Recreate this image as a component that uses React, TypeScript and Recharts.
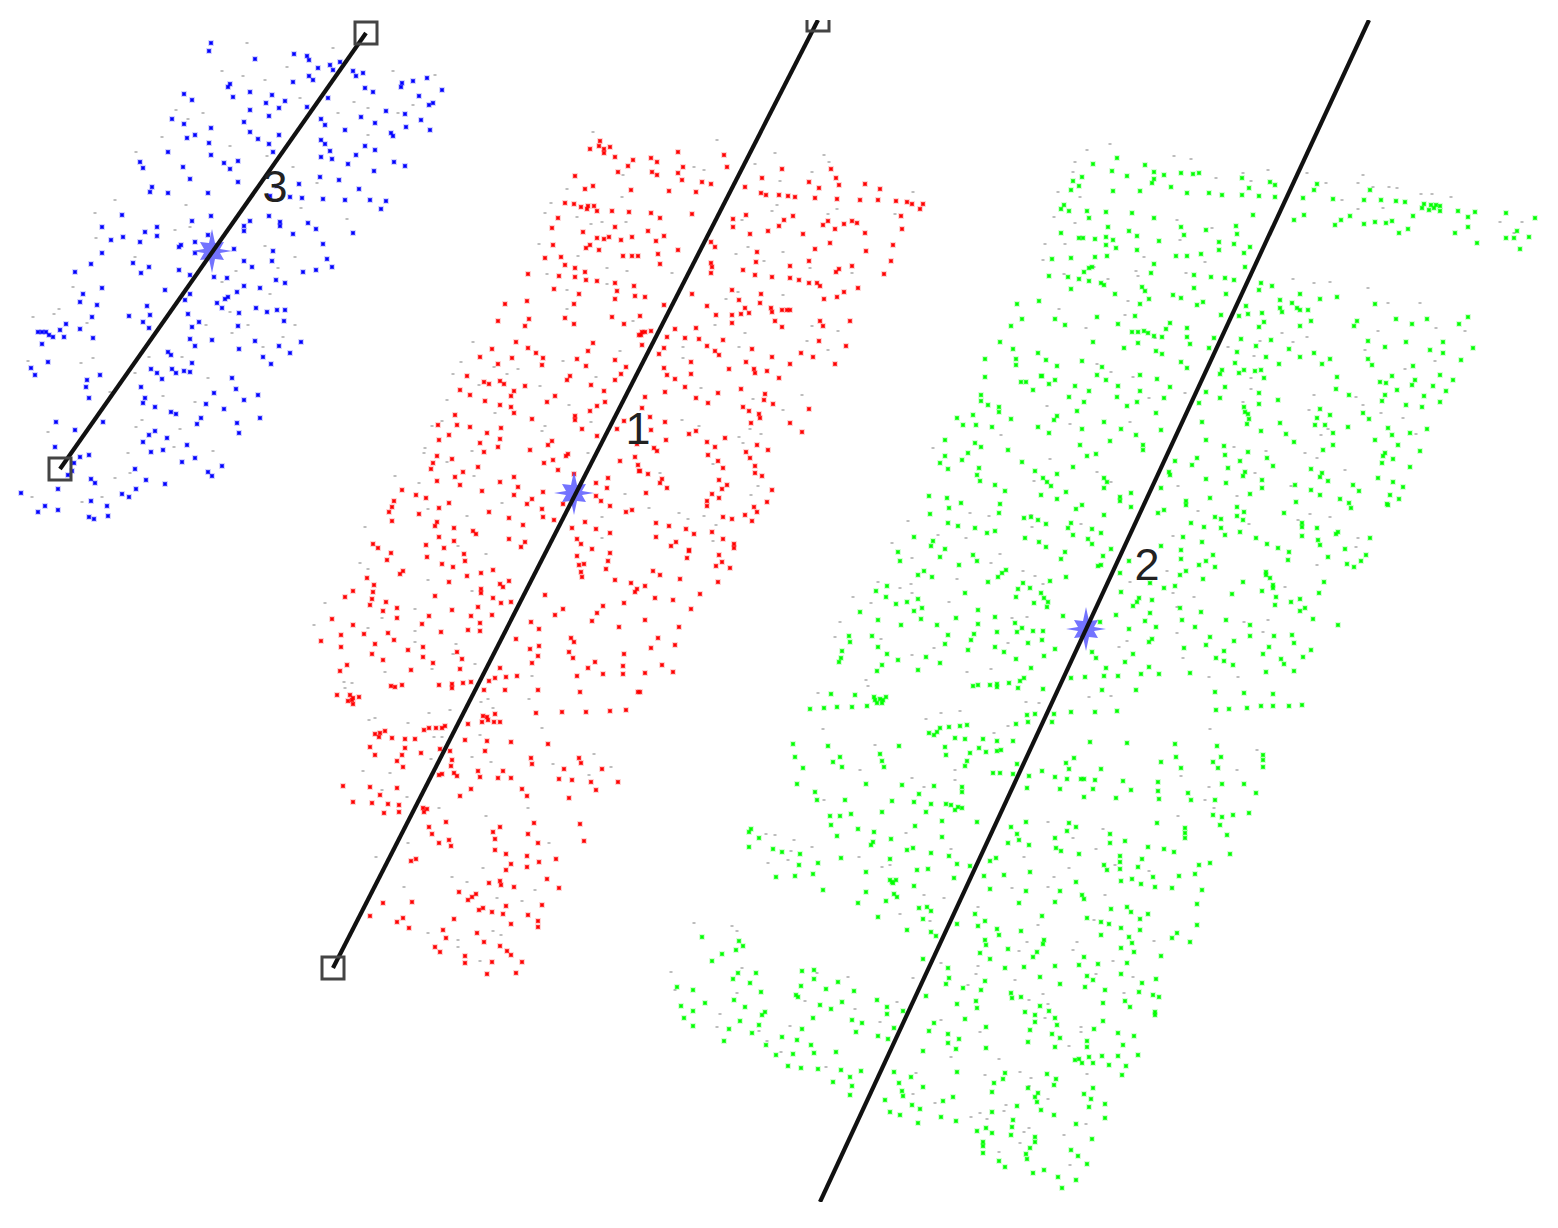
import { ScatterChart, Scatter, XAxis, YAxis, ReferenceDot } from "recharts";

type Pt = [number, number];

const bluePoints: Pt[] = [[211,43],[209,51],[255,59],[294,54],[307,56],[309,60],[318,68],[330,65],[333,70],[340,62],[353,71],[356,76],[363,73],[309,76],[313,80],[293,82],[230,84],[228,87],[250,92],[272,95],[233,97],[184,94],[192,100],[266,103],[285,101],[279,108],[250,110],[269,116],[307,107],[328,98],[365,88],[373,92],[402,83],[401,87],[413,81],[427,78],[442,90],[419,96],[433,103],[429,105],[386,111],[405,114],[361,117],[321,119],[325,125],[375,123],[421,120],[406,127],[430,130],[345,130],[391,133],[393,136],[172,119],[184,124],[211,128],[244,122],[250,132],[279,135],[195,135],[187,138],[258,139],[209,143],[269,144],[321,140],[325,144],[330,151],[365,146],[375,150],[168,152],[211,155],[273,152],[321,157],[332,159],[356,155],[140,162],[143,168],[183,167],[224,163],[230,169],[238,161],[348,164],[394,162],[405,166],[374,171],[190,179],[238,182],[320,177],[339,180],[299,184],[152,187],[150,192],[168,193],[208,193],[277,186],[270,196],[290,197],[302,198],[323,199],[359,189],[345,200],[370,200],[386,201],[381,209],[122,215],[211,216],[192,221],[269,216],[280,222],[280,226],[308,223],[316,229],[250,221],[244,226],[244,231],[293,234],[353,233],[102,227],[157,227],[145,232],[157,236],[123,237],[111,240],[140,242],[208,235],[195,242],[181,245],[179,247],[323,244],[102,253],[195,253],[234,249],[273,251],[91,264],[133,263],[149,267],[141,273],[75,272],[179,270],[190,275],[244,261],[252,267],[272,261],[327,259],[332,267],[316,270],[303,272],[214,277],[227,278],[276,280],[285,283],[244,286],[260,288],[102,288],[165,290],[83,294],[190,294],[237,292],[228,297],[225,299],[80,302],[185,300],[217,303],[222,308],[97,305],[147,306],[256,308],[267,312],[277,310],[285,310],[239,313],[188,314],[150,315],[129,316],[92,317],[199,322],[284,321],[143,322],[66,324],[192,327],[238,326],[149,328],[60,330],[80,329],[38,332],[42,332],[46,332],[49,335],[53,337],[64,337],[93,338],[42,344],[190,339],[212,340],[195,346],[255,341],[301,342],[279,346],[239,349],[290,353],[168,352],[171,355],[263,357],[271,364],[48,362],[192,363],[31,368],[35,375],[151,369],[157,373],[162,379],[172,369],[176,373],[184,371],[190,372],[100,375],[87,380],[86,387],[232,378],[141,387],[236,389],[214,393],[258,395],[89,398],[145,398],[143,403],[244,400],[206,404],[155,407],[224,409],[171,412],[176,414],[201,418],[197,424],[260,418],[56,422],[103,422],[237,423],[239,433],[75,430],[155,431],[149,435],[167,438],[143,442],[55,447],[187,445],[163,450],[151,452],[89,455],[80,457],[74,463],[195,458],[182,462],[222,466],[135,469],[72,471],[68,475],[208,472],[212,476],[91,479],[95,483],[146,480],[165,484],[58,489],[136,489],[21,493],[122,494],[129,497],[91,501],[45,506],[107,506],[58,510],[38,512],[89,517],[94,519],[108,516]];

const redPoints: Pt[] = [[600,141],[599,146],[604,149],[610,147],[604,153],[590,149],[615,157],[633,160],[628,166],[618,172],[575,176],[593,186],[585,189],[631,190],[565,203],[574,204],[581,207],[588,206],[587,209],[594,206],[597,211],[612,211],[629,212],[558,218],[552,228],[615,227],[583,232],[597,238],[604,239],[609,237],[621,240],[632,237],[553,245],[590,245],[586,248],[599,250],[623,256],[632,256],[638,256],[545,258],[561,257],[565,265],[575,268],[585,272],[528,274],[559,276],[575,277],[586,280],[597,281],[615,283],[634,286],[554,289],[617,291],[635,296],[579,294],[615,299],[527,301],[505,304],[574,304],[565,318],[612,317],[529,319],[498,321],[574,324],[624,324],[525,326],[639,335],[516,342],[593,343],[528,348],[492,349],[588,351],[536,353],[480,357],[512,358],[543,358],[577,359],[615,360],[498,364],[542,365],[586,366],[626,367],[621,374],[570,376],[567,380],[615,380],[467,376],[484,382],[489,384],[500,381],[504,384],[525,386],[591,385],[460,390],[604,391],[514,391],[511,396],[470,395],[555,396],[547,402],[485,401],[605,402],[500,405],[511,407],[597,406],[590,411],[514,413],[455,415],[575,416],[575,420],[532,419],[624,421],[438,425],[457,425],[470,427],[501,428],[582,429],[617,429],[487,433],[449,435],[597,436],[439,440],[500,439],[552,441],[480,443],[548,445],[637,444],[498,447],[530,450],[484,452],[437,456],[568,454],[566,456],[635,457],[452,459],[433,463],[544,463],[553,460],[620,461],[638,465],[431,469],[478,467],[558,470],[639,471],[463,472],[574,474],[455,477],[514,477],[608,478],[437,481],[500,482],[596,483],[460,485],[518,487],[607,488],[482,491],[402,490],[543,492],[416,495],[514,495],[426,498],[596,496],[601,501],[394,501],[532,499],[449,503],[392,507],[527,504],[439,508],[563,504],[610,506],[542,509],[389,512],[419,514],[489,512],[632,510],[626,512],[543,517],[509,518],[554,520],[392,521],[437,522],[435,526],[585,522],[523,525],[454,528],[572,528],[596,529],[473,531],[476,534],[610,533],[439,537],[509,539],[577,539],[454,541],[525,542],[373,544],[378,548],[426,545],[444,548],[521,547],[581,544],[592,549],
[678,152],[651,158],[657,162],[683,167],[652,172],[657,175],[678,173],[682,180],[724,155],[727,167],[702,182],[711,184],[669,191],[696,192],[745,187],[782,169],[762,178],[809,182],[819,188],[831,169],[836,178],[839,185],[865,184],[880,189],[761,193],[766,195],[779,195],[788,196],[795,197],[815,198],[837,199],[860,200],[878,200],[896,201],[907,202],[912,204],[923,204],[920,209],[651,213],[660,218],[692,214],[746,215],[733,219],[733,227],[793,216],[784,220],[779,226],[768,231],[750,234],[823,225],[828,221],[844,224],[852,221],[857,223],[835,229],[803,234],[865,233],[901,216],[902,229],[648,231],[664,236],[656,241],[711,242],[715,247],[678,250],[658,254],[660,264],[815,249],[830,243],[866,251],[893,245],[757,252],[756,262],[809,261],[891,261],[711,263],[712,267],[711,273],[743,270],[790,266],[852,266],[839,269],[836,272],[884,274],[755,275],[772,277],[790,278],[799,280],[809,283],[817,283],[820,286],[858,288],[732,290],[761,294],[844,292],[837,297],[824,299],[692,294],[645,297],[739,300],[760,303],[664,305],[707,306],[745,308],[771,308],[772,312],[782,310],[787,310],[790,310],[716,315],[732,315],[741,314],[749,313],[640,316],[732,323],[775,321],[782,327],[820,321],[823,326],[850,321],[675,329],[696,328],[642,332],[645,332],[641,335],[651,331],[667,337],[685,338],[699,339],[723,340],[819,341],[707,346],[642,345],[664,348],[752,349],[846,346],[715,351],[719,355],[659,354],[801,353],[772,357],[813,357],[691,362],[746,362],[835,364],[790,364],[664,368],[729,369],[754,369],[755,373],[767,371],[691,374],[667,375],[675,379],[779,378],[685,387],[741,389],[645,397],[665,392],[696,398],[718,393],[765,394],[708,403],[764,400],[773,404],[743,407],[749,411],[809,409],[642,408],[759,414],[760,418],[650,417],[665,422],[751,423],[790,423],[802,432],[651,430],[696,431],[689,434],[725,438],[666,440],[707,442],[715,447],[757,445],[768,450],[654,448],[657,451],[746,452],[708,455],[750,458],[718,461],[723,468],[755,466],[755,473],[762,476],[648,474],[640,471],[662,479],[660,483],[719,480],[727,485],[722,489],[667,488],[772,490],[646,493],[712,494],[719,498],[707,501],[707,506],[767,502],[754,507],[757,512],[723,517],[732,519],[745,515],[752,521],[656,523],[669,526],[686,529],[694,534],[712,532],[656,537],[676,542],[671,546],[723,539],[734,544],[734,548],[689,550],
[391,553],[387,560],[427,557],[442,564],[453,567],[464,554],[465,561],[403,571],[400,574],[367,578],[467,576],[481,573],[493,570],[449,582],[509,581],[500,584],[503,587],[374,585],[373,592],[353,591],[345,597],[481,589],[481,593],[435,596],[493,598],[372,599],[370,605],[386,602],[501,603],[511,602],[545,595],[397,608],[478,607],[383,611],[452,610],[471,616],[492,615],[429,616],[397,618],[332,619],[422,624],[480,623],[353,625],[531,622],[539,629],[468,630],[480,631],[441,632],[388,633],[364,634],[341,635],[394,640],[321,641],[516,639],[375,644],[341,647],[423,647],[408,650],[372,654],[457,652],[530,649],[539,646],[423,657],[538,656],[383,660],[462,659],[433,663],[532,663],[347,665],[460,669],[500,668],[411,670],[340,671],[517,676],[506,677],[495,678],[489,681],[471,682],[463,683],[439,685],[452,684],[452,688],[402,685],[391,686],[395,687],[484,690],[505,690],[538,690],[337,695],[350,695],[359,697],[352,700],[348,701],[353,704],[353,698],[536,713],[562,712],[586,712],[610,711],[626,710],[483,716],[495,714],[487,717],[482,722],[488,720],[494,722],[500,722],[468,724],[445,726],[442,728],[436,728],[429,728],[424,730],[385,731],[380,733],[375,734],[379,737],[392,738],[405,739],[415,739],[465,740],[487,741],[511,742],[548,744],[405,748],[370,747],[421,753],[440,749],[450,751],[485,751],[375,755],[402,755],[452,760],[531,758],[579,758],[397,761],[532,764],[451,766],[581,763],[403,767],[564,769],[602,769],[503,771],[478,771],[454,773],[442,774],[439,775],[457,776],[480,777],[498,778],[511,778],[559,779],[572,780],[591,782],[618,782],[343,786],[370,787],[397,788],[522,789],[471,789],[596,790],[380,795],[460,796],[527,796],[569,798],[353,802],[372,803],[388,804],[399,805],[423,808],[427,809],[424,812],[384,813],[399,812],[446,822],[534,823],[580,824],[500,827],[429,827],[493,832],[432,834],[528,834],[495,839],[439,843],[449,840],[451,846],[538,843],[584,841],[495,850],[506,854],[527,856],[556,859],[416,859],[411,861],[539,862],[511,864],[527,867],[506,870],[547,879],[489,883],[500,881],[501,885],[514,887],[559,888],[459,892],[476,894],[472,897],[468,900],[383,903],[412,902],[542,905],[506,906],[479,910],[483,908],[492,912],[503,914],[528,915],[370,916],[454,919],[403,918],[397,922],[538,921],[538,927],[511,924],[409,928],[443,930],[477,933],[446,938],[484,942],[500,946],[435,947],[440,952],[507,951],[511,955],[465,956],[465,963],[492,962],[522,962],[487,974],[516,973],
[610,553],[608,561],[577,556],[579,565],[584,564],[606,569],[581,572],[582,577],[615,580],[631,583],[637,589],[635,592],[624,603],[603,606],[563,609],[555,615],[597,613],[592,621],[619,627],[571,638],[574,642],[569,652],[573,658],[624,654],[595,662],[588,668],[623,666],[623,674],[603,674],[577,676],[580,692],[638,692],
[689,551],[719,555],[687,558],[722,562],[716,566],[730,568],[653,571],[660,575],[680,579],[718,582],[645,586],[700,594],[655,598],[673,600],[691,609],[645,620],[679,627],[658,638],[675,645],[651,648],[662,665],[673,672],[645,673],[640,692]];

const greenPoints: Pt[] = [[1117,158],[1093,164],[1145,165],[1112,171],[1154,172],[1127,176],[1164,175],[1181,173],[1193,174],[1199,173],[1082,177],[1073,181],[1154,179],[1152,183],[1079,186],[1071,190],[1113,191],[1140,191],[1171,187],[1187,193],[1209,193],[1222,195],[1242,178],[1249,188],[1242,195],[1259,196],[1270,182],[1275,185],[1275,197],[1303,198],[1317,184],[1314,190],[1333,199],[1370,190],[1364,200],[1381,200],[1396,201],[1405,202],[1424,204],[1422,208],[1431,205],[1436,205],[1440,206],[1429,210],[1434,208],[1440,211],[1458,211],[1475,212],[1468,217],[1506,213],[1535,218],[1468,227],[1455,233],[1477,243],[1517,231],[1506,238],[1514,238],[1529,237],[1520,249],[1064,205],[1061,209],[1069,211],[1087,211],[1106,212],[1132,213],[1089,218],[1154,218],[1253,215],[1294,220],[1304,215],[1341,220],[1335,225],[1350,216],[1364,224],[1375,222],[1386,223],[1392,221],[1413,216],[1408,229],[1399,233],[1108,227],[1181,227],[1206,230],[1236,226],[1237,234],[1129,231],[1184,235],[1061,233],[1079,238],[1083,238],[1095,239],[1106,237],[1113,240],[1137,236],[1159,241],[1219,242],[1106,245],[1116,248],[1234,244],[1250,247],[1219,250],[1137,250],[1244,253],[1176,256],[1187,256],[1201,254],[1052,259],[1071,258],[1095,257],[1107,256],[1154,264],[1092,267],[1089,268],[1084,272],[1245,267],[1151,273],[1049,276],[1068,277],[1079,279],[1089,281],[1101,283],[1104,285],[1194,275],[1211,277],[1225,278],[1234,280],[1142,287],[1071,289],[1194,288],[1261,283],[1272,286],[1259,290],[1145,291],[1115,294],[1226,294],[1300,294],[1337,297],[1173,295],[1181,298],[1149,299],[1320,299],[1280,300],[1292,303],[1140,304],[1203,302],[1197,305],[1375,304],[1246,306],[1280,308],[1297,308],[1300,310],[1308,310],[1282,312],[1135,316],[1097,317],[1221,315],[1239,316],[1248,314],[1262,313],[1055,319],[1065,325],[1118,324],[1170,323],[1264,322],[1311,321],[1357,321],[1354,326],[1396,319],[1412,324],[1427,319],[1459,324],[1468,317],[1259,327],[1300,326],[1187,328],[1166,329],[1132,332],[1138,332],[1144,331],[1148,333],[1154,336],[1162,337],[1187,337],[1214,338],[1241,339],[1271,340],[1368,341],[1406,342],[1443,342],[1093,342],[1138,343],[1190,344],[1256,346],[1385,347],[1124,348],[1209,348],[1289,349],[1430,350],[1473,348],[1156,351],[1162,354],[1237,352],[1314,353],[1443,353],[1266,357],[1300,357],[1330,359],[1368,359],[1461,360],[1046,360],[1082,361],[1181,362],[1235,363],[1279,364],[1322,364],[1057,366],[1372,365],[1413,366],[1102,367],[1187,368],[1244,370],[1255,371],[1261,370],[1222,370],[1220,374],[1239,373],[1097,375],[1140,375],[1042,376],[1392,376],[1440,375],[1337,377],[1157,379],[1264,378],[1106,380],[1055,380],[1380,382],[1386,383],[1415,380],[1412,385],[1453,380],[1049,384],[1075,386],[1118,386],[1170,387],[1225,387],[1433,386],[1336,389],[1140,391],[1089,391],[1397,390],[1446,391],[1206,392],[1259,393],[1349,395],[1069,397],[1117,397],[1164,398],[1220,398],[1278,400],[1385,395],[1424,396],[1382,401],[1084,402],[1137,402],[1199,403],[1259,404],[1440,402],[1127,406],[1406,405],[1422,407],[1244,407],[1320,409],[1077,411],[1156,413],[1245,412],[1248,414],[1363,413],[1330,415],[1057,416],[1054,420],[1249,419],[1317,418],[1369,419],[1104,422],[1202,422],[1247,424],[1280,423],[1315,425],[1325,425],[1082,429],[1121,429],[1348,427],[1388,428],[1427,429],[1161,430],[1261,431],[1333,433],[1136,435],[1049,433],[1286,434],[1392,435],[1410,433],
[1017,304],[1039,301],[1022,319],[1011,326],[1000,342],[1013,349],[1038,353],[1016,359],[1016,365],[985,359],[985,377],[1041,376],[1021,382],[1026,382],[1033,390],[981,395],[981,401],[988,405],[999,407],[999,412],[973,415],[957,418],[1011,419],[963,425],[976,425],[992,427],[1038,427],
[1398,445],[1420,451],[1385,453],[1383,456],[1393,459],[1382,463],[1410,467],[1393,482],[1403,487],[1390,495],[1399,499],[1387,504],
[945,440],[975,443],[981,447],[1008,450],[1080,445],[1110,441],[1143,445],[1143,450],[1206,440],[1224,446],[1294,442],[1333,445],[1323,450],[1375,440],[1225,455],[1248,452],[945,456],[968,453],[1087,456],[1096,454],[940,463],[962,460],[1022,462],[1175,461],[1197,458],[1192,465],[1240,461],[1267,458],[1273,466],[948,469],[979,468],[1035,471],[1073,467],[1228,468],[1311,469],[977,475],[1043,478],[1057,474],[1169,472],[1170,475],[1245,472],[1243,476],[1322,473],[1320,477],[1104,478],[1206,479],[1262,480],[1378,478],[980,481],[1047,482],[1226,483],[1328,481],[995,485],[1051,486],[1107,482],[1104,488],[1161,488],[1262,488],[1295,485],[1353,485],[1005,491],[1066,492],[1311,490],[1359,491],[929,496],[1041,495],[1131,493],[1250,494],[1320,495],[947,498],[1120,497],[1120,501],[1210,498],[1340,499],[961,503],[1057,499],[1186,501],[1186,505],[1296,502],[1349,503],[1000,504],[1082,505],[1131,507],[1351,508],[999,513],[1076,509],[949,508],[1158,513],[1164,510],[1237,507],[1244,512],[1388,505],[930,514],[1104,515],[1284,513],[1237,516],[1024,518],[1031,517],[1038,520],[1215,517],[1221,519],[1243,520],[948,523],[1046,524],[1071,523],[1191,523],[1302,523],[958,526],[1204,527],[1302,527],[975,528],[1068,528],[1092,529],[1221,528],[1317,528],[995,531],[987,533],[1073,535],[1101,533],[1240,532],[1225,535],[1338,532],[1336,534],[914,537],[1025,538],[1088,539],[1183,537],[1302,536],[1256,538],[933,541],[931,546],[1039,542],[1092,544],[1202,542],[1318,540],[1320,545],[1370,538],[1161,546],[1267,544],[1046,547],[945,549],[1111,549],[1181,550],[1278,548],[1345,549],[898,552],[1065,552],[1289,552],[973,555],[940,557],[1103,556],[1181,559],[1213,555],[1328,557],[1366,555],[900,561],[977,561],[1061,559],[1288,560],[1361,561],[959,565],[1101,565],[1098,566],[1129,561],[1206,561],[1199,565],[1215,567],[1347,564],[1354,567],[924,571],[918,575],[1006,570],[1002,573],[998,577],[1120,573],[1186,571],[1180,575],[1266,572],[1266,575],[932,577],[1066,577],[1203,579],[1270,578],[988,582],[1050,581],[1150,583],[1243,582],[1324,582],[1023,583],[1030,588],[887,586],[1164,588],[1175,586],[1273,585],[1273,588],[1018,589],[876,591],[1121,592],[1262,591],[965,593],[1041,593],[1232,594],[1319,593],[886,597],[1016,597],[1044,598],[1276,597],[1152,600],[1139,598],[918,599],[1137,602],[1300,599],[896,604],[907,602],[1034,603],[1048,602],[1291,602],[1133,606],[1275,605],[922,608],[1047,607],[1305,608],[860,612],[914,611],[978,610],[1180,608],[1300,611],[1201,612],[1150,613],[1116,615],[1063,616],[878,620],[921,619],[956,618],[995,617],[1182,620],[1226,620],[1313,619],[1145,621],[1015,623],[1100,622],[901,625],[937,625],[978,624],[1195,627],[1250,625],[1338,625],[1156,627],[1129,629],[1022,628],[997,632],[1017,632],[1033,631],[1043,631],[974,634],[849,636],[872,636],[948,635],[1210,637],[1250,636],[1274,636],[1292,635],[971,640],[850,642],[1042,640],[1152,639],[1149,642],[1234,641],[1294,643],[945,644],[1028,643],[1206,645],[878,647],[995,647],[1269,647],[1184,648],[842,651],[968,650],[1055,649],[1224,651],[1311,650],[887,654],[1004,652],[1092,652],[1263,654],[841,658],[839,662],[926,657],[1044,656],[1096,658],[1133,654],[1216,658],[1303,657],[898,660],[1016,659],[1224,661],[1281,659],[940,663],[1125,662],[1284,664],[882,665],[1233,665],[1031,668],[1106,668],[1149,667],[918,670],[877,671],[1266,672],[1294,671],[1141,674],[1159,674],[1190,673],[1071,678],[1085,677],[1104,676],[1118,676],[1024,678],[1020,681],[1009,683],[978,685],[973,686],[990,685],[997,684],[997,687],[1018,688],[1043,689],[1102,690],[1136,690],[1215,692],[1244,693],[1273,694],[831,694],[855,695],[874,697],[880,699],[886,697],[877,703],[882,703],[875,700],[883,700],[810,709],[824,708],[837,707],[852,707],[867,706],[1216,710],[1229,709],[1247,708],[1261,706],[1273,706],[1289,706],[1302,705],[1071,712],[1095,712],[1117,711],[1027,715],[1035,714],[1054,714],[1028,722],[1016,724],[1052,722],[967,725],[960,726],[949,727],[940,728],[937,732],[929,733],[934,735],[955,738],[965,739],[983,739],[997,741],[1013,741],[1090,742],[1127,743],[1175,744],[1217,746],[793,744],[828,746],[899,746],[945,747],[979,748],[997,751],[1001,750],[986,752],[880,754],[970,753],[946,755],[1176,757],[1263,755],[795,757],[840,757],[882,761],[833,762],[1074,758],[1221,757],[1263,760],[967,761],[1066,763],[1161,762],[1213,762],[803,768],[842,767],[884,767],[965,766],[1017,764],[1181,768],[1218,768],[1263,767],[1069,769],[1101,769],[993,773],[1000,773],[1013,774],[1042,771],[1055,777],[1029,776],[1067,779],[1081,779],[1084,779],[1095,780],[1123,781],[1158,782],[866,784],[902,785],[797,784],[934,786],[1222,784],[1244,784],[962,787],[1027,788],[1060,789],[1093,789],[1131,790],[962,792],[1158,791],[815,792],[1188,793],[919,794],[1256,793],[1084,797],[1116,798],[1159,799],[817,800],[845,800],[892,801],[914,802],[1191,800],[1215,800],[931,804],[946,804],[951,805],[958,807],[962,808],[955,810],[926,812],[882,812],[851,814],[840,816],[830,816],[1213,815],[1222,817],[1233,815],[1249,813],
[751,829],[749,832],[831,825],[858,829],[874,832],[915,826],[942,821],[977,822],[1026,822],[1069,823],[1076,827],[1011,827],[1067,831],[1157,823],[1185,828],[1185,833],[1110,834],[1017,834],[1220,825],[1227,835],[837,836],[759,838],[942,837],[1055,838],[1185,838],[891,839],[1019,840],[1110,843],[1125,841],[873,842],[871,845],[1008,843],[1029,845],[749,847],[1148,847],[773,849],[913,848],[907,850],[1056,848],[1061,851],[1164,849],[782,852],[1174,852],[800,854],[931,853],[1079,854],[1230,854],[949,856],[1120,856],[841,858],[996,858],[990,861],[890,859],[1120,862],[1142,859],[957,864],[818,863],[799,865],[1104,865],[1210,863],[1199,865],[1138,867],[970,866],[928,869],[917,870],[1107,870],[1120,869],[866,872],[1030,872],[813,874],[776,877],[795,876],[984,876],[1004,875],[954,878],[1153,877],[1179,876],[1195,874],[1132,879],[892,882],[896,880],[890,880],[893,883],[1076,882],[1121,881],[1141,884],[914,886],[1155,887],[1172,888],[823,890],[990,889],[1026,891],[1060,891],[1202,890],[866,892],[894,894],[897,897],[1082,895],[1084,899],[858,903],[886,901],[1019,903],[1055,902],[1197,904],[919,908],[927,907],[931,911],[1111,909],[1127,907],[1131,912],[975,914],[1148,914],[1042,916],[878,917],[923,919],[1087,918],[1140,919],[985,921],[1101,922],[957,924],[1109,924],[978,926],[1197,925],[907,930],[997,929],[1121,928],[1140,930],[931,932],[1021,931],[936,936],[999,935],[1177,933],[1101,935],[1172,938],[1129,937],[702,937],[739,941],[985,940],[1044,940],[1132,943],[1190,942],[743,946],[986,945],[1043,944],[1121,948],[736,950],[1008,949],[1037,952],[722,954],[980,953],[1134,952],[1033,957],[990,959],[1084,957],[1161,956],[712,961],[923,959],[1079,965],[1098,964],[1127,963],[1055,966],[948,968],[1005,968],[1024,967],[802,971],[814,970],[738,973],[756,973],[1087,976],[1121,974],[733,979],[814,979],[949,978],[1040,977],[1093,980],[1156,979],[750,983],[838,982],[985,981],[946,984],[1060,984],[1142,983],[801,986],[677,987],[963,988],[1085,987],[693,990],[826,989],[981,990],[1105,990],[761,992],[854,991],[1139,992],[1011,993],[796,995],[798,997],[926,996],[1012,998],[1021,997],[1153,995],[1159,997],[734,1000],[877,1000],[842,1002],[976,1001],[1125,1001],[705,1003],[957,1004],[1103,1003],[681,1006],[820,1005],[887,1007],[745,1007],[977,1008],[1040,1006],[1130,1007],[831,1009],[693,1011],[903,1011],[1049,1011],[765,1012],[762,1015],[887,1014],[1025,1012],[1035,1015],[1155,1012],[1155,1015],[684,1018],[813,1018],[852,1020],[965,1019],[1055,1018],[740,1021],[862,1023],[934,1023],[1035,1022],[1103,1021],[693,1026],[759,1025],[1057,1025],[729,1029],[802,1029],[894,1028],[986,1027],[1094,1029],[1030,1030],[856,1032],[929,1031],[752,1033],[1118,1033],[1052,1034],[948,1034],[782,1037],[878,1036],[1060,1038],[1134,1036],[797,1040],[888,1039],[959,1039],[724,1041],[1028,1042],[1087,1041],[948,1043],[766,1045],[811,1045],[1087,1047],[1123,1045],[1055,1047],[956,1049],[986,1048],[923,1051],[836,1052],[814,1053],[793,1054],[776,1055],[1138,1055],[1102,1056],[1118,1056],[1075,1060],[1079,1059],[1082,1063],[1089,1057],[1093,1063],[1109,1065],[1126,1066],[788,1066],[801,1068],[818,1069],[841,1070],[861,1071],[894,1072],[957,1072],[1047,1074],[1005,1073],[911,1077],[850,1077],[1122,1075],[1056,1079],[1003,1079],[833,1082],[899,1083],[994,1083],[1054,1085],[923,1087],[852,1086],[1028,1088],[1093,1088],[902,1091],[992,1092],[1038,1093],[1084,1094],[850,1095],[903,1096],[1035,1097],[953,1097],[1091,1099],[885,1100],[1037,1102],[943,1101],[1105,1104],[912,1105],[1017,1106],[1089,1107],[920,1109],[1041,1110],[890,1112],[992,1112],[900,1115],[1054,1115],[941,1117],[1105,1118],[956,1121],[1013,1120],[918,1123],[1076,1124],[1012,1127],[977,1131],[986,1128],[992,1133],[1011,1135],[1035,1137],[1092,1139],[983,1142],[983,1146],[1035,1142],[1030,1148],[983,1153],[1071,1150],[1026,1154],[1078,1156],[1027,1159],[999,1161],[1087,1164],[1005,1167],[1033,1173],[1044,1170],[1058,1177],[1076,1180],[1062,1188]];

const grayPoints: Pt[] = [[247,43],[333,48],[222,71],[243,76],[265,80],[287,67],[393,71],[435,75],[300,98],[354,102],[368,108],[338,113],[398,113],[413,105],[176,110],[203,113],[188,119],[162,137],[230,146],[368,135],[136,152],[267,156],[293,167],[317,183],[115,200],[95,213],[186,205],[301,208],[347,219],[175,230],[190,227],[96,238],[265,246],[295,257],[135,257],[278,268],[236,271],[73,287],[270,294],[222,282],[59,309],[33,317],[54,314],[230,312],[248,325],[295,325],[87,323],[206,325],[232,333],[283,337],[263,347],[182,357],[149,357],[93,358],[81,363],[28,361],[208,378],[135,373],[110,392],[163,396],[195,402],[142,420],[136,427],[180,429],[48,432],[213,451],[174,447],[128,453],[130,473],[115,478],[32,497],[82,502],[102,497],
[593,132],[623,175],[567,189],[622,197],[551,203],[545,213],[577,217],[591,224],[602,222],[626,222],[539,244],[578,256],[607,268],[547,274],[627,271],[607,284],[567,290],[567,309],[633,321],[473,342],[620,351],[461,362],[494,367],[518,369],[563,361],[453,374],[507,374],[479,385],[540,386],[596,377],[447,400],[569,405],[495,413],[591,422],[442,421],[432,426],[542,431],[545,426],[425,448],[472,451],[424,453],[447,462],[588,453],[395,476],[419,483],[474,476],[502,503],[428,509],[467,516],[365,527],[602,517],[602,538],[458,546],[717,140],[775,153],[824,155],[829,162],[755,164],[694,167],[704,170],[812,172],[780,181],[913,192],[777,205],[772,211],[837,209],[828,214],[895,214],[742,220],[748,247],[783,252],[736,254],[764,261],[810,268],[672,273],[852,273],[726,299],[783,295],[738,292],[812,326],[838,331],[745,333],[715,325],[807,341],[828,350],[739,347],[683,347],[683,358],[701,388],[802,395],[783,410],[753,399],[682,420],[699,426],[739,437],[761,434],[743,443],[750,429],[713,464],[758,486],[660,473],[751,495],[625,494],[649,508],[679,513],[688,519],[704,516],[716,525],[713,541],[360,563],[368,569],[428,580],[486,554],[325,603],[472,591],[415,609],[382,618],[314,625],[368,628],[415,631],[415,642],[456,644],[453,654],[385,672],[432,669],[475,664],[352,683],[344,682],[345,688],[532,676],[529,699],[488,699],[481,702],[493,708],[450,710],[429,713],[369,720],[375,718],[408,723],[434,737],[442,737],[480,735],[542,728],[431,759],[472,757],[491,762],[594,754],[363,771],[390,773],[553,764],[611,767],[589,775],[382,790],[407,797],[439,808],[528,808],[486,816],[408,843],[549,843],[376,857],[483,868],[452,877],[467,882],[404,887],[535,890],[497,898],[522,901],[428,933],[493,931],[458,940],[458,947],[501,935],[480,961],
[1110,144],[1087,150],[1174,156],[1191,159],[1075,162],[1073,172],[1216,178],[1243,173],[1268,170],[1251,181],[1307,173],[1326,183],[1363,175],[1358,183],[1389,187],[1373,187],[1397,188],[1058,192],[1080,197],[1342,200],[1421,194],[1432,194],[1451,197],[1383,208],[1358,209],[1054,217],[1177,220],[1075,223],[1212,228],[1500,222],[1522,222],[1514,233],[1045,244],[1065,244],[1180,240],[1144,257],[1205,262],[1043,260],[1094,267],[1136,271],[1138,276],[1186,273],[1064,274],[1108,279],[1293,279],[1314,283],[1330,282],[1368,288],[1128,301],[1388,303],[1420,303],[1059,309],[1125,315],[1086,328],[1282,333],[1307,337],[1378,331],[1436,328],[1465,331],[1155,338],[1293,342],[1260,341],[1228,347],[1254,356],[1365,350],[1435,361],[1097,364],[1111,372],[1405,369],[1133,377],[1251,378],[1251,389],[1149,398],[1185,393],[1356,397],[1314,395],[1047,406],[1243,402],[1309,410],[1363,405],[1381,413],[1403,418],[1070,424],[1130,422],[1328,429],[1321,435],[1416,434],
[933,448],[1001,435],[1050,459],[1097,472],[1111,482],[1034,481],[1178,486],[1234,447],[1266,451],[1305,453],[1317,458],[1255,473],[1345,470],[1291,486],[1237,496],[1330,517],[1310,514],[1298,520],[1198,511],[1249,524],[989,516],[1031,515],[970,513],[908,521],[1032,527],[1081,524],[1173,536],[938,535],[966,538],[892,543],[1358,538],[1356,547],[912,558],[1000,554],[991,563],[1023,571],[1035,576],[1167,571],[1317,565],[878,582],[900,588],[911,584],[1043,584],[957,579],[1130,582],[1173,593],[1285,587],[853,597],[912,593],[949,602],[871,603],[1194,597],[1177,607],[840,622],[1012,618],[1027,617],[1268,620],[1244,622],[1177,633],[835,637],[881,639],[934,648],[1008,643],[1127,641],[1119,647],[1263,632],[912,655],[1183,658],[991,669],[967,672],[1209,677],[1238,677],[1089,697],[1111,696],[866,680],[868,686],[818,693],[1026,702],[1039,703],[960,711],[941,713],[926,719],[1008,726],[1210,729],[823,729],[994,733],[1257,750],[875,745],[955,770],[860,770],[1237,770],[1181,776],[912,778],[955,780],[924,787],[1209,787],[824,800],[1205,800],[1178,816],[1214,808],
[766,834],[775,835],[794,840],[812,847],[791,851],[788,860],[768,863],[859,857],[906,833],[890,865],[882,867],[951,849],[1024,857],[1048,822],[1103,829],[1073,838],[1096,849],[1115,865],[1069,868],[1054,877],[1048,887],[1012,888],[1105,895],[1149,871],[944,898],[924,895],[900,914],[930,921],[978,907],[1038,925],[1094,920],[694,923],[732,926],[737,931],[1027,942],[1077,942],[1154,941],[1019,951],[1073,950],[1113,961],[941,963],[978,966],[742,968],[671,972],[976,974],[817,973],[848,977],[913,978],[1096,974],[1133,977],[1015,980],[968,985],[675,990],[1124,993],[737,993],[1043,994],[1029,1000],[1048,1004],[805,1001],[897,1002],[855,1009],[720,1014],[1045,1018],[717,1027],[790,1026],[941,1020],[880,1022],[1081,1027],[1081,1032],[980,1032],[759,1031],[767,1041],[1069,1046],[781,1052],[951,1057],[999,1059],[826,1067],[1087,1074],[985,1075],[916,1073],[1020,1072],[1031,1078],[1029,1086],[913,1094],[1048,1099],[935,1103],[1006,1105],[1004,1111],[971,1117],[980,1113],[987,1119],[1086,1124],[1029,1128],[1024,1132],[1064,1135],[1020,1143],[999,1152],[1070,1165]];

// fitted lines, image coordinates
const line1Ends: Pt[] = [[333,968],[818,20]];
const line2Ends: Pt[] = [[1369,20],[820,1202]];
const line3Ends: Pt[] = [[60,469],[366,33]];

const centroids: Pt[] = [[212,251],[574,493],[1086,629]];

const lineNames = ["1", "2", "3"];
const nameSpots: Pt[] = [[638,428],[1147,564],[275,186]];

const toData = (pts: Pt[]) => pts.map(([x, y]) => ({ x, y }));

function SoftDot({ cx, cy, fill }: any) {
  return (
    <g>
      <rect x={cx - 3} y={cy - 3} width={6} height={6} fill={fill} opacity={0.16} />
      <rect x={cx - 2} y={cy - 2} width={4} height={4} fill={fill} opacity={0.75} />
      <rect x={cx - 1} y={cy - 1} width={2} height={2} fill={fill} />
    </g>
  );
}

function GrayDot({ cx, cy }: any) {
  return <rect x={cx - 1.5} y={cy - 1} width={3} height={2} fill="#bdbdbd" />;
}

function EndSquare({ cx, cy }: any) {
  return <rect x={cx - 11} y={cy - 11} width={22} height={22} fill="none" stroke="#444" strokeWidth={3} />;
}

function Star({ cx, cy }: any) {
  const d = `M${cx - 20} ${cy} L${cx - 8} ${cy - 2} L${cx - 12} ${cy - 9} L${cx - 3} ${cy - 8} L${cx} ${cy - 22} L${cx + 3} ${cy - 8} L${cx + 12} ${cy - 9} L${cx + 8} ${cy - 2} L${cx + 20} ${cy} L${cx + 8} ${cy + 2} L${cx + 12} ${cy + 9} L${cx + 3} ${cy + 8} L${cx} ${cy + 22} L${cx - 3} ${cy + 8} L${cx - 12} ${cy + 9} L${cx - 8} ${cy + 2} Z`;
  return <path d={d} fill="#5a5aff" opacity={0.85} />;
}

const NoMark = () => <g />;

export default function App() {
  return (
    <div style={{ position: "absolute", left: 0, top: 0, background: "#fff" }}>
      <ScatterChart width={1558} height={1228} margin={{ top: 20, right: 0, bottom: 26, left: 0 }}>
        <XAxis type="number" dataKey="x" domain={[0, 1558]} hide allowDataOverflow />
        <YAxis type="number" dataKey="y" domain={[20, 1202]} reversed hide allowDataOverflow />
        <Scatter data={toData(grayPoints)} shape={GrayDot} isAnimationActive={false} />
        <Scatter data={toData(bluePoints)} fill="#0000ff" shape={SoftDot} isAnimationActive={false} />
        <Scatter data={toData(redPoints)} fill="#ff0000" shape={SoftDot} isAnimationActive={false} />
        <Scatter data={toData(greenPoints)} fill="#00ff00" shape={SoftDot} isAnimationActive={false} />
        <Scatter data={toData(centroids)} shape={Star} isAnimationActive={false} />
        <Scatter data={toData(line3Ends)} line={{ stroke: "#111", strokeWidth: 4.2 }} shape={EndSquare} isAnimationActive={false} />
        <Scatter data={toData(line1Ends)} line={{ stroke: "#111", strokeWidth: 4.2 }} shape={EndSquare} isAnimationActive={false} />
        <Scatter data={toData(line2Ends)} line={{ stroke: "#111", strokeWidth: 4.2 }} shape={NoMark} isAnimationActive={false} />
        {lineNames.map((name, i) => (
          <ReferenceDot
            key={name}
            x={nameSpots[i][0]}
            y={nameSpots[i][1]}
            r={0}
            fill="none"
            stroke="none"
            label={{ value: name, position: "center", fontSize: 45, fill: "#222", fontFamily: "Liberation Sans" }}
          />
        ))}
      </ScatterChart>
    </div>
  );
}
